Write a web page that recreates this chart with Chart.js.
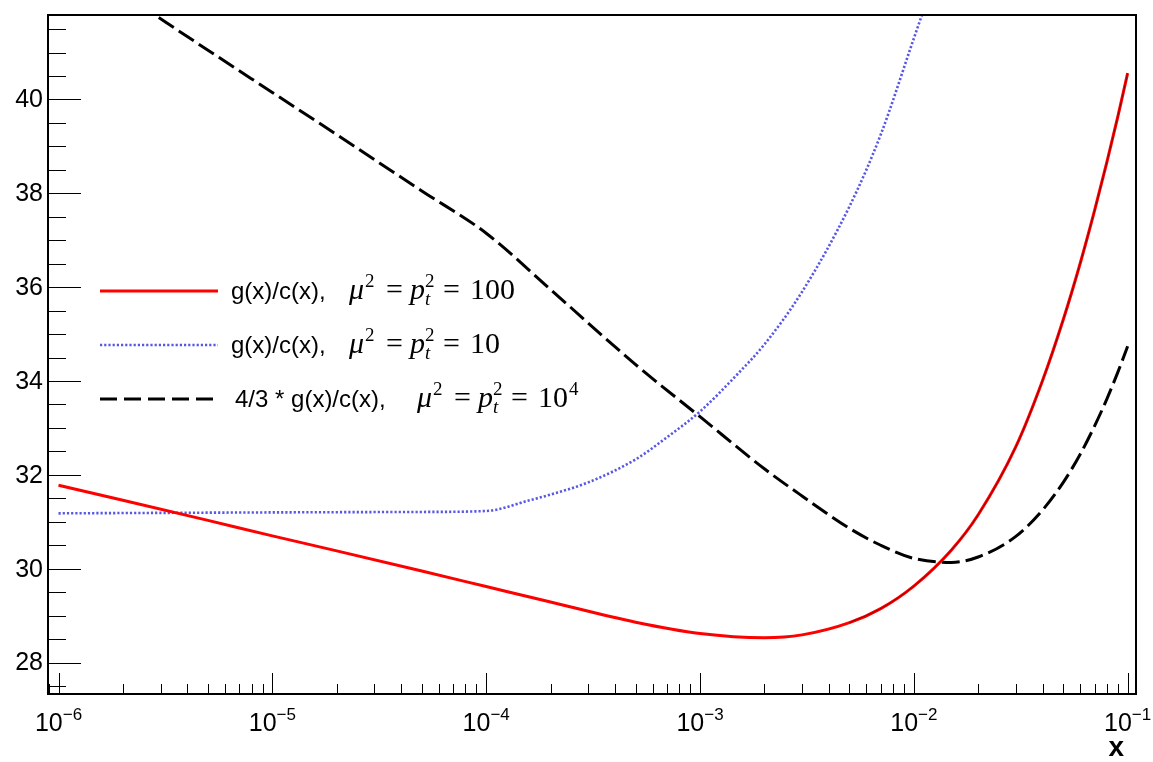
<!DOCTYPE html>
<html>
<head>
<meta charset="utf-8">
<script src="https://cdn.jsdelivr.net/npm/chart.js@4.4.1/dist/chart.umd.min.js"></script>
<style>
  html, body { margin: 0; padding: 0; background: #fff; }
</style>
</head>
<body>
<canvas id="chart" width="1153" height="762"></canvas>
<script>
// x values shared by the red and black curves
const xGrid = [1e-6, 2e-6, 5e-6, 1e-5, 2e-5, 5e-5, 1e-4, 2e-4, 5e-4, 1e-3, 2e-3, 3e-3, 5e-3, 7e-3,
  1e-2, 1.5e-2, 2e-2, 3e-2, 4e-2, 5e-2, 6e-2, 7e-2, 8e-2, 9e-2, 0.1];

// g(x)/c(x), mu^2 = pt^2 = 100
const redValues = [31.78, 31.46, 31.03, 30.70, 30.38, 29.95, 29.62, 29.29, 28.86, 28.62, 28.53, 28.59, 28.85, 29.15,
  29.63, 30.40, 31.15, 32.60, 34.01, 35.31, 36.51, 37.63, 38.67, 39.64, 40.56];

// 4/3 * g(x)/c(x), mu^2 = pt^2 = 10^4
const blackValues = [43.15, 42.25, 41.05, 40.15, 39.25, 38.05, 37.15, 35.95, 34.35, 33.24, 32.13, 31.55, 30.86, 30.50,
  30.22, 30.135, 30.25, 30.69, 31.25, 31.84, 32.44, 33.04, 33.62, 34.19, 34.74];

// g(x)/c(x), mu^2 = pt^2 = 10 (leaves the frame at the top)
const blueX = [1e-6, 1e-5, 5e-5, 1e-4, 1.6e-4, 2e-4, 3e-4, 5e-4, 7e-4, 1e-3, 1.5e-3, 2e-3, 3e-3, 5e-3, 7e-3, 1e-2, 1.3e-2];
const blueValues = [31.18, 31.20, 31.21, 31.23, 31.46, 31.58, 31.84, 32.33, 32.80, 33.35, 34.15, 34.78, 35.90, 37.72, 39.25, 41.30, 42.80];

// thin dark curve that shows through the middle of the red one
const overlayX = [5e-3, 7e-3, 1e-2, 1.5e-2, 2e-2, 3e-2, 4e-2, 5e-2, 6e-2, 7e-2, 8e-2, 9e-2, 0.1];
const overlayValues = [28.85, 29.15, 29.63, 30.40, 31.15, 32.60, 34.01, 35.31, 36.51, 37.63, 38.67, 39.64, 40.56];

// axes
const xMajorTicks = [1e-6, 1e-5, 1e-4, 1e-3, 1e-2, 1e-1];
const xTickExponents = ['\u22126', '\u22125', '\u22124', '\u22123', '\u22122', '\u22121'];
const yMajorTicks = [28, 30, 32, 34, 36, 38, 40];
const yTickLabels = ['28', '30', '32', '34', '36', '38', '40'];

// legend
const legendLabels = ['g(x)/c(x),', 'g(x)/c(x),', '4/3 * g(x)/c(x),'];
const legendValues = ['100', '10', '10'];
const legendExponents = ['', '', '4'];

const pts = (xs, ys) => xs.map((x, i) => ({ x: x, y: ys[i] }));

const RED = '#ff0000';
const BLUE = 'rgb(88,88,228)';
const SANS = '"Liberation Sans", Arial, sans-serif';
const SERIF = '"Liberation Serif", "Times New Roman", serif';

const legendRows = [
  { color: RED, dash: [], width: 3, y: 291, textX: 231, mathX: 347 },
  { color: BLUE, dash: [2.2, 2], width: 2.6, y: 345, textX: 231, mathX: 347 },
  { color: '#000', dash: [17, 7], width: 3, y: 399, textX: 235, mathX: 415 }
];

function drawMath(ctx, x0, base, value, exp) {
  ctx.textAlign = 'left';
  ctx.font = 'italic 30px ' + SERIF;
  ctx.fillText('\u03bc', x0 + 2, base);
  ctx.font = '19px ' + SERIF;
  ctx.fillText('2', x0 + 18, base - 12);
  ctx.font = '30px ' + SERIF;
  ctx.fillText('=', x0 + 39, base);
  ctx.font = 'italic 30px ' + SERIF;
  ctx.fillText('p', x0 + 63, base);
  ctx.font = '19px ' + SERIF;
  ctx.fillText('2', x0 + 78, base - 12);
  ctx.font = 'italic 19px ' + SERIF;
  ctx.fillText('t', x0 + 78, base + 6);
  ctx.font = '30px ' + SERIF;
  ctx.fillText('=', x0 + 96, base);
  ctx.fillText(value, x0 + 123, base);
  if (exp) {
    const w = ctx.measureText(value).width;
    ctx.font = '19px ' + SERIF;
    ctx.fillText(exp, x0 + 124 + w, base - 12);
  }
}

const rootAxes = {
  id: 'rootAxes',
  afterDatasetsDraw(chart) {
    const { ctx, chartArea: a, scales: { x, y } } = chart;
    ctx.save();
    ctx.strokeStyle = '#000';
    ctx.lineWidth = 1;
    ctx.beginPath();
    // y ticks, inside the frame
    for (let v = 27.5; v <= y.max; v += 0.5) {
      if (v < y.min) continue;
      const py = Math.round(y.getPixelForValue(v)) + 0.5;
      const len = yMajorTicks.includes(v) ? 33 : 18;
      ctx.moveTo(a.left, py);
      ctx.lineTo(a.left + len, py);
    }
    // x ticks
    for (let e = -7; e <= -1; e++) {
      for (let m = 1; m <= 9; m++) {
        const v = m * Math.pow(10, e);
        if (v < x.min || v > x.max) continue;
        const px = Math.round(x.getPixelForValue(v)) + 0.5;
        const len = m === 1 ? 21 : 10;
        ctx.moveTo(px, a.bottom);
        ctx.lineTo(px, a.bottom - len);
      }
    }
    ctx.stroke();
    // frame
    ctx.lineWidth = 2;
    ctx.strokeRect(a.left, a.top, a.right - a.left, a.bottom - a.top);

    // y labels
    ctx.fillStyle = '#000';
    ctx.font = '25px ' + SANS;
    ctx.textAlign = 'right';
    ctx.textBaseline = 'middle';
    yMajorTicks.forEach((v, i) => {
      ctx.fillText(yTickLabels[i], 43, y.getPixelForValue(v) + 1);
    });
    // x labels: 10 with a raised exponent
    ctx.textAlign = 'left';
    ctx.textBaseline = 'alphabetic';
    xMajorTicks.forEach((v, i) => {
      ctx.font = '25px ' + SANS;
      const w10 = ctx.measureText('10').width;
      ctx.font = '17px ' + SANS;
      const wExp = ctx.measureText(xTickExponents[i]).width;
      const left = x.getPixelForValue(v) - (w10 + wExp) / 2;
      ctx.font = '25px ' + SANS;
      ctx.fillText('10', left, 731);
      ctx.font = '17px ' + SANS;
      ctx.fillText(xTickExponents[i], left + w10, 720);
    });
    // axis title
    ctx.font = 'bold 28px ' + SANS;
    ctx.textAlign = 'right';
    ctx.fillText('x', 1124, 756);
    ctx.restore();
  },
  afterDraw(chart) {
    const ctx = chart.ctx;
    ctx.save();
    legendRows.forEach((row, i) => {
      ctx.beginPath();
      ctx.setLineDash(row.dash);
      ctx.strokeStyle = row.color;
      ctx.lineWidth = row.width;
      ctx.moveTo(100, row.y);
      ctx.lineTo(218, row.y);
      ctx.stroke();
      ctx.setLineDash([]);
      ctx.fillStyle = '#000';
      ctx.textAlign = 'left';
      ctx.textBaseline = 'alphabetic';
      ctx.font = '24px ' + SANS;
      ctx.fillText(legendLabels[i], row.textX, row.y + 8);
      drawMath(ctx, row.mathX, row.y + 8, legendValues[i], legendExponents[i]);
    });
    ctx.restore();
  }
};

const lineBase = { pointRadius: 0, pointHoverRadius: 0, cubicInterpolationMode: 'monotone', fill: false, clip: 0, borderCapStyle: 'butt' };

new Chart(document.getElementById('chart'), {
  type: 'line',
  data: {
    datasets: [
      Object.assign({}, lineBase, { label: 'overlay', data: pts(overlayX, overlayValues), borderColor: 'rgba(60,0,0,0.55)', borderWidth: 1 }),
      Object.assign({}, lineBase, { label: 'g(x)/c(x), mu^2 = pt^2 = 100', data: pts(xGrid, redValues), borderColor: RED, borderWidth: 3 }),
      Object.assign({}, lineBase, { label: '4/3 * g(x)/c(x), mu^2 = pt^2 = 10^4', data: pts(xGrid, blackValues), borderColor: '#000', borderWidth: 3, borderDash: [18, 6] }),
      Object.assign({}, lineBase, { label: 'g(x)/c(x), mu^2 = pt^2 = 10', data: pts(blueX, blueValues), borderColor: BLUE, borderWidth: 2.6, borderDash: [2.2, 2] })
    ]
  },
  options: {
    responsive: false,
    animation: false,
    layout: { padding: { left: 48, top: 15, right: 17, bottom: 68 } },
    plugins: { legend: { display: false }, tooltip: { enabled: false } },
    scales: {
      x: { type: 'logarithmic', min: 8.93e-7, max: 0.1094, bounds: 'data', display: false },
      y: { type: 'linear', min: 27.33, max: 41.80, bounds: 'data', display: false }
    }
  },
  plugins: [rootAxes]
});
</script>
</body>
</html>
